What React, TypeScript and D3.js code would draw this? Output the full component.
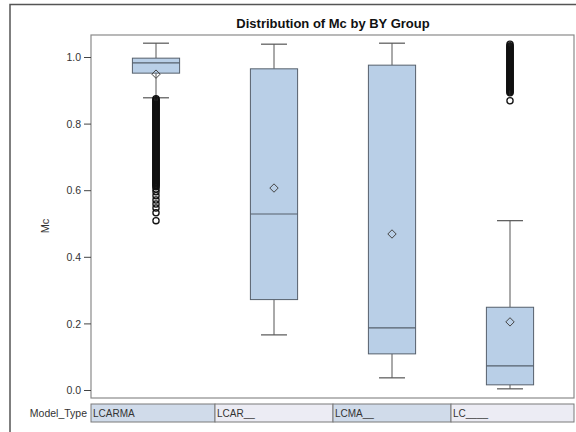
import React from "react";
import * as d3 from "d3";

// Box plot summary per model type
const categories = ["LCARMA", "LCAR__", "LCMA__", "LC____"];
const whiskerLow = [0.879, 0.167, 0.038, 0.005];
const q1 = [0.953, 0.273, 0.11, 0.017];
const median = [0.984, 0.53, 0.188, 0.074];
const q3 = [0.998, 0.966, 0.977, 0.25];
const whiskerHigh = [1.043, 1.04, 1.043, 0.51];
const means = [0.95, 0.608, 0.47, 0.206];

// Outlying observations
const outliersLCARMA = [
  0.876, 0.873, 0.870, 0.867, 0.864, 0.861, 0.858, 0.855, 0.852, 0.849, 0.846, 0.843,
  0.840, 0.837, 0.834, 0.831, 0.828, 0.825, 0.822, 0.819, 0.816, 0.813, 0.810, 0.807,
  0.804, 0.801, 0.798, 0.795, 0.792, 0.789, 0.786, 0.783, 0.780, 0.777, 0.774, 0.771,
  0.768, 0.765, 0.762, 0.759, 0.756, 0.753, 0.750, 0.747, 0.744, 0.741, 0.738, 0.735,
  0.732, 0.729, 0.726, 0.723, 0.720, 0.717, 0.714, 0.711, 0.708, 0.705, 0.702, 0.699,
  0.696, 0.693, 0.690, 0.687, 0.684, 0.681, 0.678, 0.675, 0.672, 0.669, 0.666, 0.663,
  0.660, 0.657, 0.654, 0.651, 0.648, 0.645, 0.642, 0.639, 0.636, 0.633, 0.630, 0.627,
  0.624, 0.621, 0.618, 0.615, 0.612, 0.605, 0.597, 0.585, 0.572, 0.560, 0.548, 0.534,
  0.510,
];
const outliersLC = [
  1.040, 1.035, 1.032, 1.029, 1.026, 1.023, 1.020, 1.017, 1.014, 1.011, 1.008, 1.005,
  1.002, 0.999, 0.996, 0.993, 0.990, 0.987, 0.984, 0.981, 0.978, 0.975, 0.972, 0.969,
  0.966, 0.963, 0.960, 0.957, 0.954, 0.951, 0.948, 0.945, 0.942, 0.939, 0.936, 0.933,
  0.930, 0.927, 0.924, 0.921, 0.918, 0.915, 0.912, 0.909, 0.906, 0.903, 0.900, 0.897,
  0.894, 0.870,
];
const outliers = [outliersLCARMA, [], [], outliersLC];

const yTicks = [0, 0.2, 0.4, 0.6, 0.8, 1.0];
const cellFills = ["#d0dbea", "#ececf4", "#d0dbea", "#ececf4"];

const W = 576;
const H = 432;
const plot = { left: 91, right: 574, top: 35, bottom: 398 };
const font = "'Liberation Sans', Arial, sans-serif";

export default function App() {
  const x = d3.scaleBand<string>().domain(categories).range([97, 569]);
  const y = d3.scaleLinear().domain([0, 1]).range([390.5, 57.5]);
  const bw = x.bandwidth() * 0.4;
  const capW = x.bandwidth() * 0.22;
  const boxFill = "#b9cfe7";
  const boxStroke = "#56606c";

  const diamond = (cx: number, cy: number, r: number) =>
    `M${cx},${cy - r}L${cx + r},${cy}L${cx},${cy + r}L${cx - r},${cy}Z`;

  return (
    <svg
      width={W}
      height={H}
      style={{ position: "absolute", left: 0, top: 0, background: "#fff" }}
      fontFamily={font}
    >
      {/* outer frame */}
      <path d={`M10,${H + 2}V4.5H${W + 2}`} fill="none" stroke="#555" strokeWidth={1.5} />

      <text x={333} y={27.5} textAnchor="middle" fontSize={13} fontWeight="bold" fill="#111">
        Distribution of Mc by BY Group
      </text>

      {/* plot area */}
      <rect
        x={plot.left}
        y={plot.top}
        width={plot.right - plot.left}
        height={plot.bottom - plot.top}
        fill="#fff"
        stroke="#8a8a8a"
        strokeWidth={1.2}
      />

      {/* y axis */}
      {yTicks.map((t) => (
        <g key={t}>
          <line x1={84} x2={plot.left} y1={y(t)} y2={y(t)} stroke="#444" />
          <text x={81} y={y(t) + 3.6} textAnchor="end" fontSize={10.5} fill="#333">
            {t.toFixed(1)}
          </text>
        </g>
      ))}
      <text
        transform={`translate(49,${(y(0) + y(1)) / 2 + 2}) rotate(-90)`}
        textAnchor="middle"
        fontSize={11}
        fill="#333"
      >
        Mc
      </text>

      {/* boxes */}
      {categories.map((c, i) => {
        const cx = (x(c) as number) + x.bandwidth() / 2;
        return (
          <g key={c}>
            <line x1={cx} x2={cx} y1={y(whiskerHigh[i])} y2={y(q3[i])} stroke="#555" strokeWidth={1} />
            <line x1={cx} x2={cx} y1={y(q1[i])} y2={y(whiskerLow[i])} stroke="#555" strokeWidth={1} />
            <line
              x1={cx - capW / 2}
              x2={cx + capW / 2}
              y1={y(whiskerHigh[i])}
              y2={y(whiskerHigh[i])}
              stroke="#555"
              strokeWidth={1.2}
            />
            <line
              x1={cx - capW / 2}
              x2={cx + capW / 2}
              y1={y(whiskerLow[i])}
              y2={y(whiskerLow[i])}
              stroke="#555"
              strokeWidth={1.2}
            />
            <rect
              x={cx - bw / 2}
              y={y(q3[i])}
              width={bw}
              height={y(q1[i]) - y(q3[i])}
              fill={boxFill}
              stroke={boxStroke}
              strokeWidth={1}
            />
            <line
              x1={cx - bw / 2}
              x2={cx + bw / 2}
              y1={y(median[i])}
              y2={y(median[i])}
              stroke={boxStroke}
              strokeWidth={1.1}
            />
            <path d={diamond(cx, y(means[i]), 4.2)} fill="none" stroke="#444" strokeWidth={1} />
            {outliers[i].map((v, j) => (
              <circle key={j} cx={cx} cy={y(v)} r={3.1} fill="none" stroke="#111" strokeWidth={1.3} />
            ))}
          </g>
        );
      })}

      {/* class row */}
      <text x={87} y={417} textAnchor="end" fontSize={10.5} fill="#333">
        Model_Type
      </text>
      {categories.map((c, i) => {
        const x0 = i === 0 ? plot.left : (x(c) as number);
        const x1 = i === categories.length - 1 ? plot.right : (x(c) as number) + x.bandwidth();
        return (
          <g key={c}>
            <rect x={x0} y={404} width={x1 - x0} height={18} fill={cellFills[i]} stroke="#7a7a7a" strokeWidth={1} />
            <text x={x0 + 2} y={417} fontSize={10} fill="#333">
              {c}
            </text>
          </g>
        );
      })}
    </svg>
  );
}
